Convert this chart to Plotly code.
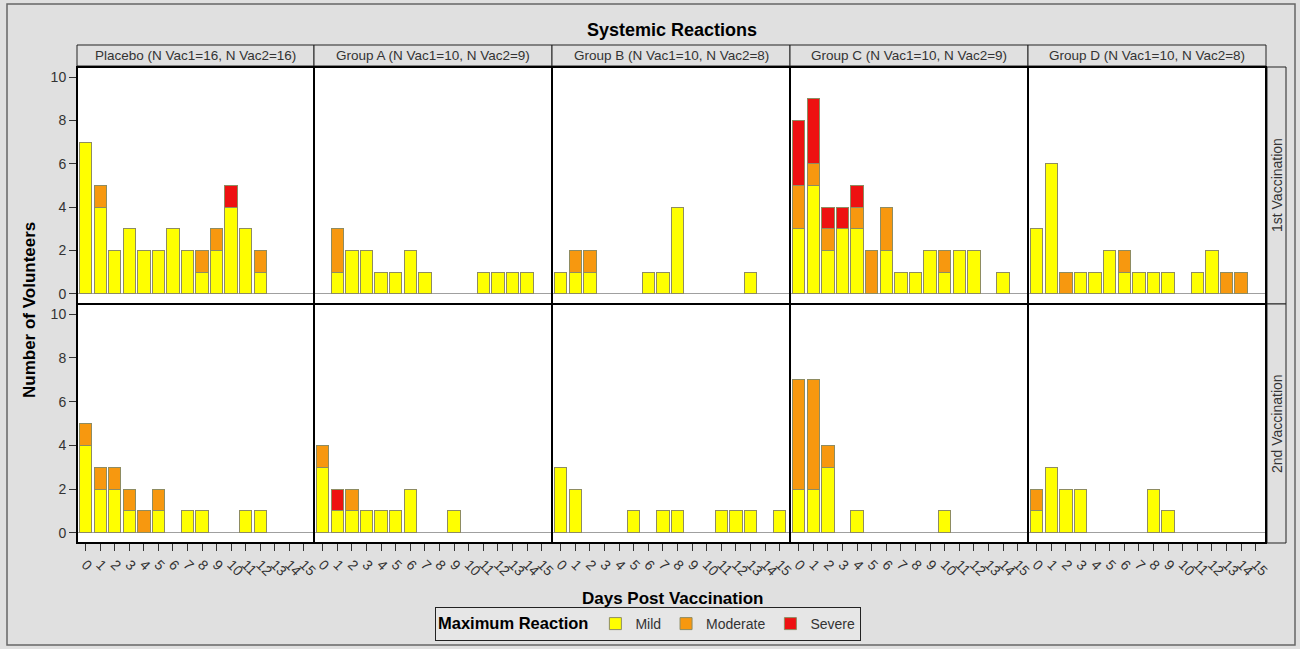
import plotly.graph_objects as go

# ---- data: number of volunteers by day post vaccination (days 0..15) ----
days = list(range(16))

placebo_v1_mild     = [7, 4, 2, 3, 2, 2, 3, 2, 1, 2, 4, 3, 1, 0, 0, 0]
placebo_v1_moderate = [0, 1, 0, 0, 0, 0, 0, 0, 1, 1, 0, 0, 1, 0, 0, 0]
placebo_v1_severe   = [0, 0, 0, 0, 0, 0, 0, 0, 0, 0, 1, 0, 0, 0, 0, 0]

groupA_v1_mild      = [0, 1, 2, 2, 1, 1, 2, 1, 0, 0, 0, 1, 1, 1, 1, 0]
groupA_v1_moderate  = [0, 2, 0, 0, 0, 0, 0, 0, 0, 0, 0, 0, 0, 0, 0, 0]
groupA_v1_severe    = [0, 0, 0, 0, 0, 0, 0, 0, 0, 0, 0, 0, 0, 0, 0, 0]

groupB_v1_mild      = [1, 1, 1, 0, 0, 0, 1, 1, 4, 0, 0, 0, 0, 1, 0, 0]
groupB_v1_moderate  = [0, 1, 1, 0, 0, 0, 0, 0, 0, 0, 0, 0, 0, 0, 0, 0]
groupB_v1_severe    = [0, 0, 0, 0, 0, 0, 0, 0, 0, 0, 0, 0, 0, 0, 0, 0]

groupC_v1_mild      = [3, 5, 2, 3, 3, 0, 2, 1, 1, 2, 1, 2, 2, 0, 1, 0]
groupC_v1_moderate  = [2, 1, 1, 0, 1, 2, 2, 0, 0, 0, 1, 0, 0, 0, 0, 0]
groupC_v1_severe    = [3, 3, 1, 1, 1, 0, 0, 0, 0, 0, 0, 0, 0, 0, 0, 0]

groupD_v1_mild      = [3, 6, 0, 1, 1, 2, 1, 1, 1, 1, 0, 1, 2, 0, 0, 0]
groupD_v1_moderate  = [0, 0, 1, 0, 0, 0, 1, 0, 0, 0, 0, 0, 0, 1, 1, 0]
groupD_v1_severe    = [0, 0, 0, 0, 0, 0, 0, 0, 0, 0, 0, 0, 0, 0, 0, 0]

placebo_v2_mild     = [4, 2, 2, 1, 0, 1, 0, 1, 1, 0, 0, 1, 1, 0, 0, 0]
placebo_v2_moderate = [1, 1, 1, 1, 1, 1, 0, 0, 0, 0, 0, 0, 0, 0, 0, 0]
placebo_v2_severe   = [0, 0, 0, 0, 0, 0, 0, 0, 0, 0, 0, 0, 0, 0, 0, 0]

groupA_v2_mild      = [3, 1, 1, 1, 1, 1, 2, 0, 0, 1, 0, 0, 0, 0, 0, 0]
groupA_v2_moderate  = [1, 0, 1, 0, 0, 0, 0, 0, 0, 0, 0, 0, 0, 0, 0, 0]
groupA_v2_severe    = [0, 1, 0, 0, 0, 0, 0, 0, 0, 0, 0, 0, 0, 0, 0, 0]

groupB_v2_mild      = [3, 2, 0, 0, 0, 1, 0, 1, 1, 0, 0, 1, 1, 1, 0, 1]
groupB_v2_moderate  = [0, 0, 0, 0, 0, 0, 0, 0, 0, 0, 0, 0, 0, 0, 0, 0]
groupB_v2_severe    = [0, 0, 0, 0, 0, 0, 0, 0, 0, 0, 0, 0, 0, 0, 0, 0]

groupC_v2_mild      = [2, 2, 3, 0, 1, 0, 0, 0, 0, 0, 1, 0, 0, 0, 0, 0]
groupC_v2_moderate  = [5, 5, 1, 0, 0, 0, 0, 0, 0, 0, 0, 0, 0, 0, 0, 0]
groupC_v2_severe    = [0, 0, 0, 0, 0, 0, 0, 0, 0, 0, 0, 0, 0, 0, 0, 0]

groupD_v2_mild      = [1, 3, 2, 2, 0, 0, 0, 0, 2, 1, 0, 0, 0, 0, 0, 0]
groupD_v2_moderate  = [1, 0, 0, 0, 0, 0, 0, 0, 0, 0, 0, 0, 0, 0, 0, 0]
groupD_v2_severe    = [0, 0, 0, 0, 0, 0, 0, 0, 0, 0, 0, 0, 0, 0, 0, 0]

group_labels = [
    "Placebo (N Vac1=16, N Vac2=16)",
    "Group A (N Vac1=10, N Vac2=9)",
    "Group B (N Vac1=10, N Vac2=8)",
    "Group C (N Vac1=10, N Vac2=9)",
    "Group D (N Vac1=10, N Vac2=8)",
]
row_labels = ["1st Vaccination", "2nd Vaccination"]
severity_names = ["Mild", "Moderate", "Severe"]
y_ticks = [0, 2, 4, 6, 8, 10]
x_ticks = list(range(16))

panels = [
    [
        (placebo_v1_mild, placebo_v1_moderate, placebo_v1_severe),
        (groupA_v1_mild, groupA_v1_moderate, groupA_v1_severe),
        (groupB_v1_mild, groupB_v1_moderate, groupB_v1_severe),
        (groupC_v1_mild, groupC_v1_moderate, groupC_v1_severe),
        (groupD_v1_mild, groupD_v1_moderate, groupD_v1_severe),
    ],
    [
        (placebo_v2_mild, placebo_v2_moderate, placebo_v2_severe),
        (groupA_v2_mild, groupA_v2_moderate, groupA_v2_severe),
        (groupB_v2_mild, groupB_v2_moderate, groupB_v2_severe),
        (groupC_v2_mild, groupC_v2_moderate, groupC_v2_severe),
        (groupD_v2_mild, groupD_v2_moderate, groupD_v2_severe),
    ],
]

# ---- styling ----
W, H = 1300, 649
FONT = "Liberation Sans, Arial, sans-serif"
BG = "#e0e0e0"
severity_colors = ["#ffff00", "#f7980f", "#ee1111"]
bar_outline = "#8e8c62"

col_px = [(77, 314), (314, 552), (552, 790), (790, 1028), (1028, 1266)]
row_px = [(67, 304), (304, 543)]


def fx(px):
    return px / W


def fy(py):
    return 1 - py / H


fig = go.Figure()
layout_axes = {}
shapes = []
annotations = []

for r in range(2):
    for c in range(5):
        k = r * 5 + c + 1
        xa = "x" if k == 1 else f"x{k}"
        ya = "y" if k == 1 else f"y{k}"
        series = panels[r][c]
        for s, vals in enumerate(series):
            xs = [d for d, v in zip(days, vals) if v > 0]
            ys = [v for v in vals if v > 0]
            fig.add_trace(go.Bar(
                x=xs, y=ys, xaxis=xa, yaxis=ya,
                name=severity_names[s], legendgroup=severity_names[s],
                showlegend=(k == 1),
                width=0.85,
                marker=dict(color=severity_colors[s],
                            line=dict(color=bar_outline, width=1)),
                hoverinfo="skip",
            ))

        x0, x1 = col_px[c]
        y0, y1 = row_px[r]
        xkey = "xaxis" if k == 1 else f"xaxis{k}"
        ykey = "yaxis" if k == 1 else f"yaxis{k}"
        bottom = (r == 1)
        left = (c == 0)
        layout_axes[xkey] = dict(
            domain=[fx(x0), fx(x1)], anchor=ya,
            range=[-0.6, 15.7], tickmode="array", tickvals=x_ticks,
            ticktext=[str(t) for t in x_ticks],
            showticklabels=bottom, ticks="outside" if bottom else "",
            ticklen=7, tickwidth=1, tickcolor="#333333",
            tickangle=45,
            tickfont=dict(family=FONT, size=14, color="#333333"),
            showgrid=False, zeroline=False, showline=False,
            automargin=False, fixedrange=True,
        )
        layout_axes[ykey] = dict(
            domain=[fy(y1), fy(y0)], anchor=xa,
            range=[-0.47, 10.47], tickmode="array", tickvals=y_ticks,
            showticklabels=left, ticks="outside" if left else "",
            ticklen=7, tickwidth=1, tickcolor="#333333",
            tickfont=dict(family=FONT, size=14, color="#333333"),
            showgrid=False,
            zeroline=True, zerolinecolor="#a0a0a0", zerolinewidth=1,
            showline=False,
            automargin=False, fixedrange=True,
        )
        # panel frame
        shapes.append(dict(type="rect", xref="paper", yref="paper",
                           x0=fx(x0), x1=fx(x1), y0=fy(y1), y1=fy(y0),
                           line=dict(color="black", width=2), layer="above"))

# column header strips
for c, label in enumerate(group_labels):
    x0, x1 = col_px[c]
    shapes.append(dict(type="rect", xref="paper", yref="paper",
                       x0=fx(x0), x1=fx(x1), y0=fy(66), y1=fy(45),
                       fillcolor=BG, line=dict(color="#222222", width=1),
                       layer="below"))
    annotations.append(dict(xref="paper", yref="paper",
                            x=fx((x0 + x1) / 2), y=fy(55.5),
                            text=label, showarrow=False,
                            font=dict(family=FONT, size=13.5, color="#333333"),
                            xanchor="center", yanchor="middle"))

# row header strips
for r, label in enumerate(row_labels):
    y0, y1 = row_px[r]
    shapes.append(dict(type="rect", xref="paper", yref="paper",
                       x0=fx(1267), x1=fx(1286), y0=fy(y1), y1=fy(y0),
                       fillcolor=BG, line=dict(color="#222222", width=1),
                       layer="below"))
    annotations.append(dict(xref="paper", yref="paper",
                            x=fx(1276.5), y=fy((y0 + y1) / 2),
                            text=label, showarrow=False, textangle=-90,
                            font=dict(family=FONT, size=14, color="#333333"),
                            xanchor="center", yanchor="middle"))

# outer frame
shapes.append(dict(type="rect", xref="paper", yref="paper",
                   x0=fx(7), x1=fx(1295), y0=fy(645), y1=fy(4),
                   line=dict(color="#666666", width=1.5), layer="below"))

annotations += [
    dict(xref="paper", yref="paper", x=fx(672), y=fy(30),
         text="<b>Systemic Reactions</b>", showarrow=False,
         font=dict(family=FONT, size=18, color="black"),
         xanchor="center", yanchor="middle"),
    dict(xref="paper", yref="paper", x=fx(30), y=fy(310),
         text="<b>Number of Volunteers</b>", showarrow=False, textangle=-90,
         font=dict(family=FONT, size=17, color="black"),
         xanchor="center", yanchor="middle"),
    dict(xref="paper", yref="paper", x=fx(672), y=fy(598),
         text="<b>Days Post Vaccination</b>", showarrow=False,
         font=dict(family=FONT, size=17, color="black"),
         xanchor="center", yanchor="middle"),
]

fig.update_layout(
    width=W, height=H,
    margin=dict(l=0, r=0, t=0, b=0),
    paper_bgcolor=BG, plot_bgcolor="white",
    barmode="stack", bargap=0.15,
    font=dict(family=FONT, color="black"),
    shapes=shapes, annotations=annotations,
    showlegend=True,
    legend=dict(
        orientation="h", x=fx(648), y=fy(624),
        xanchor="center", yanchor="middle",
        bgcolor="#e6e6e6", bordercolor="#222222", borderwidth=1,
        title=dict(text="<b>Maximum Reaction</b>", side="left",
                   font=dict(family=FONT, size=16.5, color="black")),
        font=dict(family=FONT, size=14, color="#333333"),
        itemwidth=30, tracegroupgap=0,
    ),
    **layout_axes,
)

fig.write_html("out.html")
